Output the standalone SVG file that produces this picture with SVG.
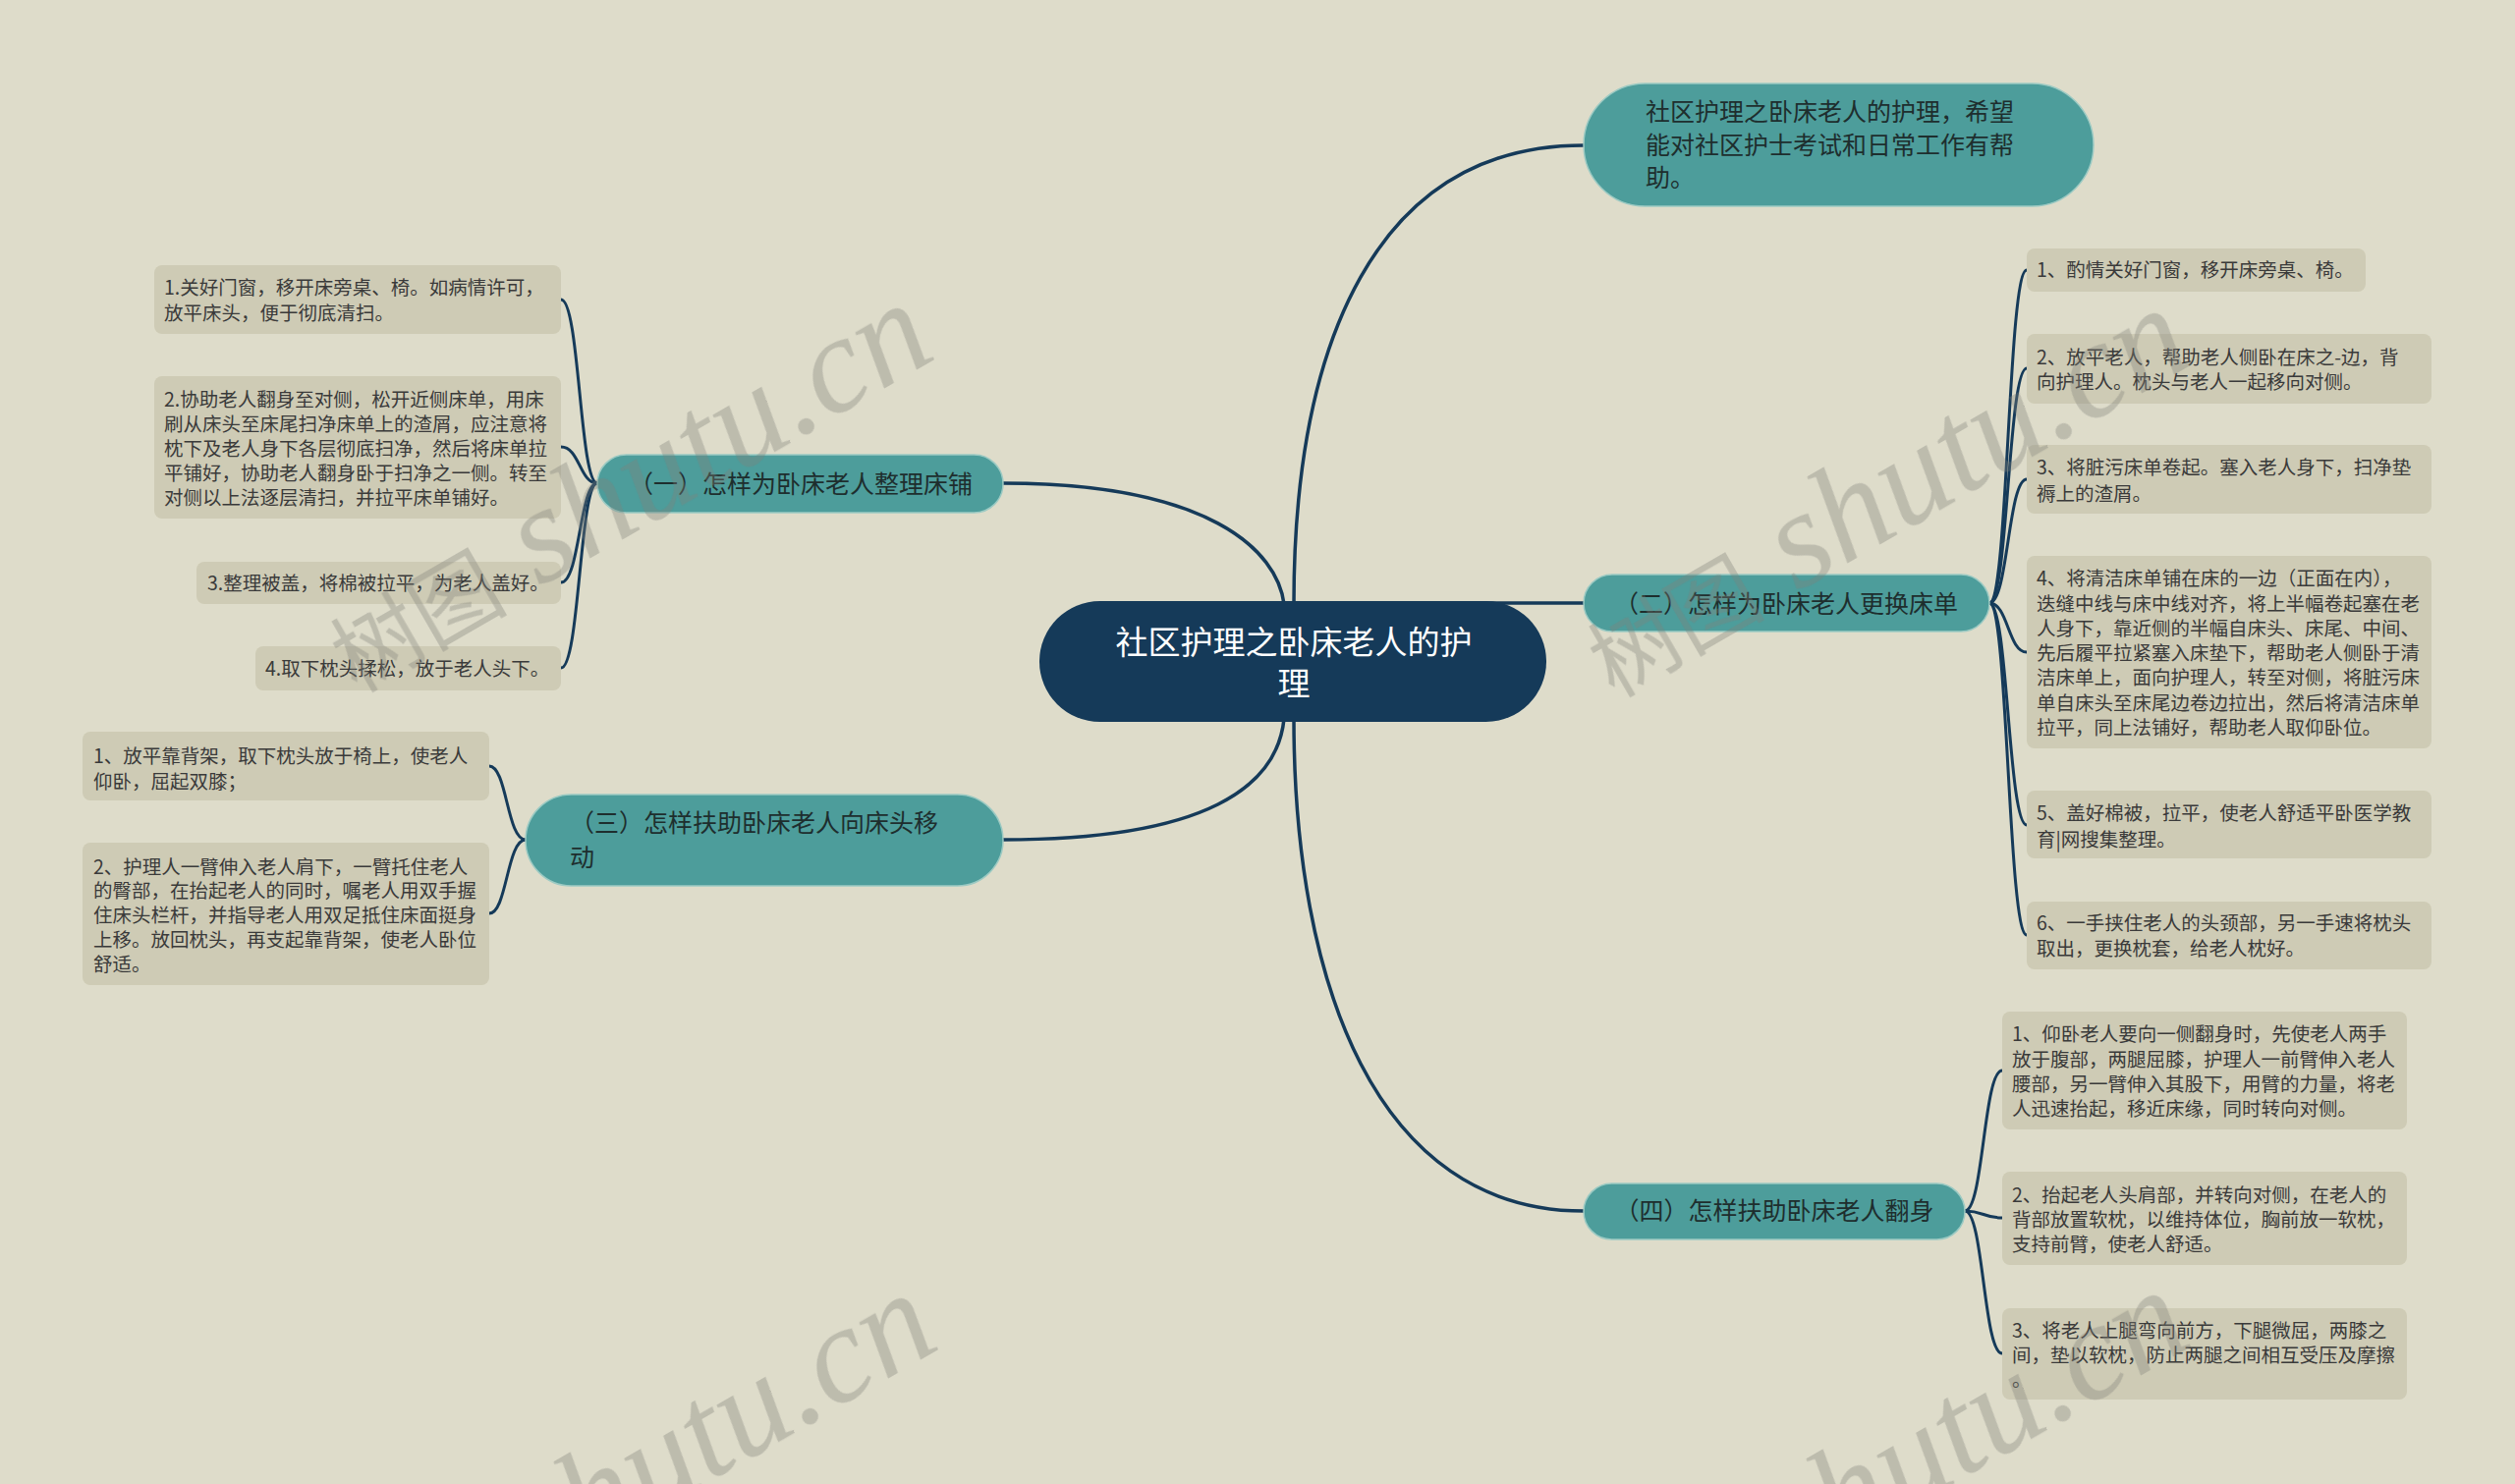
<svg xmlns="http://www.w3.org/2000/svg" width="2560" height="1511" viewBox="0 0 2560 1511">
<style>
.bg{fill:#dedcca}
.leaf{fill:#cecbb5}
.teal{fill:#4d9d9b;stroke:#9ccac3;stroke-width:1.5}
.root{fill:#153a59}
.t{font-family:"Noto Sans CJK SC","Liberation Sans",sans-serif}
.lt{font-size:19.5px;fill:#3a3a3a}
.bt{font-size:25px;fill:#1e2e2e}
.rt{font-size:33px;fill:#ffffff}
.main{fill:none;stroke:#153a59;stroke-width:3.5}
.sub{fill:none;stroke:#153a59;stroke-width:3}
.wm{fill:#80807a;opacity:0.35}
</style>
<rect class="bg" x="0" y="0" width="2560" height="1511"/>
<g id="connectors">
<path class="main" d="M1317,615 C1317,350 1400,148 1612,148"/>
<path class="main" d="M1307,615 C1300,560 1230,492 1021,492"/>
<path class="main" d="M1450,614 L1612,614"/>
<path class="main" d="M1307,732 C1300,800 1230,855 1021,855"/>
<path class="main" d="M1317,732 C1317,1000 1400,1233 1612,1233"/>
<path class="sub" d="M608,492 C590,492 590,305 571,305"/>
<path class="sub" d="M608,492 C590,492 590,455 571,455"/>
<path class="sub" d="M608,492 C590,492 590,593 571,593"/>
<path class="sub" d="M608,492 C590,492 590,680 571,680"/>
<path class="sub" d="M535,855 C516,855 516,780 498,780"/>
<path class="sub" d="M535,855 C516,855 516,930 498,930"/>
<path class="sub" d="M2025,614 C2044,614 2044,275 2063,275"/>
<path class="sub" d="M2025,614 C2044,614 2044,375 2063,375"/>
<path class="sub" d="M2025,614 C2044,614 2044,488 2063,488"/>
<path class="sub" d="M2025,614 C2044,614 2044,664 2063,664"/>
<path class="sub" d="M2025,614 C2044,614 2044,840 2063,840"/>
<path class="sub" d="M2025,614 C2044,614 2044,952 2063,952"/>
<path class="sub" d="M2000,1233 C2019,1233 2019,1090 2038,1090"/>
<path class="sub" d="M2000,1233 C2019,1233 2019,1240 2038,1240"/>
<path class="sub" d="M2000,1233 C2019,1233 2019,1378 2038,1378"/>
</g>
<g id="root">
<rect class="root" x="1058" y="612" width="516" height="123" rx="61.5"/>
<text class="t rt" text-anchor="middle"><tspan x="1317" y="666">社区护理之卧床老人的护</tspan><tspan x="1317" y="708">理</tspan></text>
</g>
<g id="intro">
<rect class="teal" x="1612" y="85" width="519" height="125" rx="62.5"/>
<text class="t bt"><tspan x="1675" y="123">社区护理之卧床老人的护理，希望</tspan><tspan x="1675" y="157">能对社区护士考试和日常工作有帮</tspan><tspan x="1675" y="190">助。</tspan></text>
</g>
<g id="b1">
<rect class="teal" x="608" y="463" width="413" height="59" rx="29.5"/>
<text class="t bt" x="815" y="502" text-anchor="middle">（一）怎样为卧床老人整理床铺</text>
</g>
<g id="b2">
<rect class="teal" x="1612" y="585" width="413" height="58" rx="29"/>
<text class="t bt" x="1818" y="624" text-anchor="middle">（二）怎样为卧床老人更换床单</text>
</g>
<g id="b3">
<rect class="teal" x="535" y="809" width="486" height="93" rx="46.5"/>
<text class="t bt"><tspan x="580" y="847">（三）怎样扶助卧床老人向床头移</tspan><tspan x="580" y="882">动</tspan></text>
</g>
<g id="b4">
<rect class="teal" x="1612" y="1205" width="388" height="57" rx="28.5"/>
<text class="t bt" x="1806" y="1242" text-anchor="middle">（四）怎样扶助卧床老人翻身</text>
</g>
<g id="l1">
<rect class="leaf" x="157" y="270" width="414" height="70" rx="8"/>
<text class="t lt"><tspan x="167" y="300">1.关好门窗，移开床旁桌、椅。如病情许可，</tspan><tspan x="167" y="326">放平床头，便于彻底清扫。</tspan></text>
</g>
<g id="l2">
<rect class="leaf" x="157" y="383" width="414" height="145" rx="8"/>
<text class="t lt"><tspan x="167" y="414">2.协助老人翻身至对侧，松开近侧床单，用床</tspan><tspan x="167" y="439">刷从床头至床尾扫净床单上的渣屑，应注意将</tspan><tspan x="167" y="464">枕下及老人身下各层彻底扫净，然后将床单拉</tspan><tspan x="167" y="489">平铺好，协助老人翻身卧于扫净之一侧。转至</tspan><tspan x="167" y="514">对侧以上法逐层清扫，并拉平床单铺好。</tspan></text>
</g>
<g id="l3">
<rect class="leaf" x="200" y="572" width="371" height="43" rx="8"/>
<text class="t lt" x="211" y="601">3.整理被盖，将棉被拉平，为老人盖好。</text>
</g>
<g id="l4">
<rect class="leaf" x="260" y="658" width="311" height="45" rx="8"/>
<text class="t lt" x="270" y="688">4.取下枕头揉松，放于老人头下。</text>
</g>
<g id="ll1">
<rect class="leaf" x="84" y="745" width="414" height="70" rx="8"/>
<text class="t lt"><tspan x="95" y="777">1、放平靠背架，取下枕头放于椅上，使老人</tspan><tspan x="95" y="803">仰卧，屈起双膝；</tspan></text>
</g>
<g id="ll2">
<rect class="leaf" x="84" y="858" width="414" height="145" rx="8"/>
<text class="t lt"><tspan x="95" y="890">2、护理人一臂伸入老人肩下，一臂托住老人</tspan><tspan x="95" y="914">的臀部，在抬起老人的同时，嘱老人用双手握</tspan><tspan x="95" y="939">住床头栏杆，并指导老人用双足抵住床面挺身</tspan><tspan x="95" y="964">上移。放回枕头，再支起靠背架，使老人卧位</tspan><tspan x="95" y="989">舒适。</tspan></text>
</g>
<g id="r1">
<rect class="leaf" x="2063" y="253" width="345" height="44" rx="8"/>
<text class="t lt" x="2073" y="282">1、酌情关好门窗，移开床旁桌、椅。</text>
</g>
<g id="r2">
<rect class="leaf" x="2063" y="340" width="412" height="71" rx="8"/>
<text class="t lt"><tspan x="2073" y="371">2、放平老人，帮助老人侧卧在床之-边，背</tspan><tspan x="2073" y="396">向护理人。枕头与老人一起移向对侧。</tspan></text>
</g>
<g id="r3">
<rect class="leaf" x="2063" y="453" width="412" height="70" rx="8"/>
<text class="t lt"><tspan x="2073" y="483">3、将脏污床单卷起。塞入老人身下，扫净垫</tspan><tspan x="2073" y="510">褥上的渣屑。</tspan></text>
</g>
<g id="r4">
<rect class="leaf" x="2063" y="566" width="412" height="196" rx="8"/>
<text class="t lt"><tspan x="2073" y="596">4、将清洁床单铺在床的一边（正面在内），</tspan><tspan x="2073" y="622">迭缝中线与床中线对齐，将上半幅卷起塞在老</tspan><tspan x="2073" y="647">人身下，靠近侧的半幅自床头、床尾、中间、</tspan><tspan x="2073" y="672">先后履平拉紧塞入床垫下，帮助老人侧卧于清</tspan><tspan x="2073" y="697">洁床单上，面向护理人，转至对侧，将脏污床</tspan><tspan x="2073" y="723">单自床头至床尾边卷边拉出，然后将清洁床单</tspan><tspan x="2073" y="748">拉平，同上法铺好，帮助老人取仰卧位。</tspan></text>
</g>
<g id="r5">
<rect class="leaf" x="2063" y="805" width="412" height="69" rx="8"/>
<text class="t lt"><tspan x="2073" y="835">5、盖好棉被，拉平，使老人舒适平卧医学教</tspan><tspan x="2073" y="862">育|网搜集整理。</tspan></text>
</g>
<g id="r6">
<rect class="leaf" x="2063" y="918" width="412" height="69" rx="8"/>
<text class="t lt"><tspan x="2073" y="947">6、一手挟住老人的头颈部，另一手速将枕头</tspan><tspan x="2073" y="973">取出，更换枕套，给老人枕好。</tspan></text>
</g>
<g id="f1">
<rect class="leaf" x="2038" y="1030" width="412" height="120" rx="8"/>
<text class="t lt"><tspan x="2048" y="1060">1、仰卧老人要向一侧翻身时，先使老人两手</tspan><tspan x="2048" y="1086">放于腹部，两腿屈膝，护理人一前臂伸入老人</tspan><tspan x="2048" y="1111">腰部，另一臂伸入其股下，用臂的力量，将老</tspan><tspan x="2048" y="1136">人迅速抬起，移近床缘，同时转向对侧。</tspan></text>
</g>
<g id="f2">
<rect class="leaf" x="2038" y="1193" width="412" height="95" rx="8"/>
<text class="t lt"><tspan x="2048" y="1224">2、抬起老人头肩部，并转向对侧，在老人的</tspan><tspan x="2048" y="1249">背部放置软枕，以维持体位，胸前放一软枕，</tspan><tspan x="2048" y="1274">支持前臂，使老人舒适。</tspan></text>
</g>
<g id="f3">
<rect class="leaf" x="2038" y="1332" width="412" height="93" rx="8"/>
<text class="t lt"><tspan x="2048" y="1362">3、将老人上腿弯向前方，下腿微屈，两膝之</tspan><tspan x="2048" y="1387">间，垫以软枕，防止两腿之间相互受压及摩擦</tspan><tspan x="2048" y="1412">。</tspan></text>
</g>
<g id="watermarks" class="wm">
<g transform="translate(823,432) rotate(-30)"><text x="150" y="7" text-anchor="end"><tspan font-family="Noto Sans CJK SC, sans-serif" font-size="90">树图</tspan><tspan font-family="Liberation Serif, serif" font-style="italic" font-size="140"> shutu.cn</tspan></text></g>
<g transform="translate(2103,437) rotate(-30)"><text x="150" y="7" text-anchor="end"><tspan font-family="Noto Sans CJK SC, sans-serif" font-size="90">树图</tspan><tspan font-family="Liberation Serif, serif" font-style="italic" font-size="140"> shutu.cn</tspan></text></g>
<g transform="translate(827,1440) rotate(-30)"><text x="150" y="7" text-anchor="end"><tspan font-family="Noto Sans CJK SC, sans-serif" font-size="90">树图</tspan><tspan font-family="Liberation Serif, serif" font-style="italic" font-size="140"> shutu.cn</tspan></text></g>
<g transform="translate(2102,1437) rotate(-30)"><text x="150" y="7" text-anchor="end"><tspan font-family="Noto Sans CJK SC, sans-serif" font-size="90">树图</tspan><tspan font-family="Liberation Serif, serif" font-style="italic" font-size="140"> shutu.cn</tspan></text></g>
</g>
</svg>
